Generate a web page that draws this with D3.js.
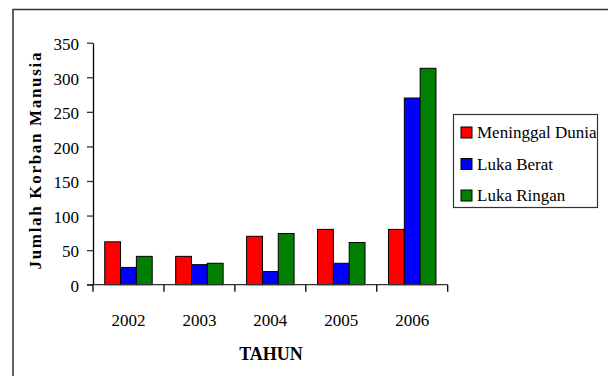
<!DOCTYPE html>
<html>
<head>
<meta charset="utf-8">
<script src="https://cdn.jsdelivr.net/npm/d3@7/dist/d3.min.js"></script>
</head>
<body style="margin:0;padding:0;background:#fff">
<svg id="chart" width="608" height="376" style="display:block" font-family="Liberation Serif"></svg>
<script>
// Casualties per year, split by category
const years = ["2002", "2003", "2004", "2005", "2006"];
const seriesNames = ["Meninggal Dunia", "Luka Berat", "Luka Ringan"];
const seriesColors = ["#ff0000", "#0000ff", "#008000"];
const meninggalDunia = [62, 41, 70, 80, 80];
const lukaBerat = [25, 29, 19, 31, 270];
const lukaRingan = [41, 31, 74, 61, 313];
const yTicks = [0, 50, 100, 150, 200, 250, 300, 350];

const seriesValues = [meninggalDunia, lukaBerat, lukaRingan];
const SERIF = "Liberation Serif";

const svg = d3.select("#chart");

// outer frame
svg.append("rect")
  .attr("x", 13).attr("y", 9.5)
  .attr("width", 620).attr("height", 400)
  .attr("fill", "none").attr("stroke", "#333").attr("stroke-width", 1.5);

const plot = { left: 93, right: 447.7, top: 42.7, bottom: 284.7 };

const x = d3.scaleBand()
  .domain(years)
  .range([plot.left, plot.right])
  .paddingInner(0.331)
  .paddingOuter(0.1655);

const xSub = d3.scaleBand()
  .domain(seriesNames)
  .range([0, x.bandwidth()]);

const y = d3.scaleLinear()
  .domain([0, 350])
  .range([plot.bottom, plot.top]);

// bars
const groups = svg.append("g").selectAll("g")
  .data(years)
  .join("g")
  .attr("transform", d => `translate(${x(d)},0)`);

groups.selectAll("rect")
  .data((yr, i) => seriesNames.map((s, k) => ({ s, k, v: seriesValues[k][i] })))
  .join("rect")
  .attr("x", d => xSub(d.s))
  .attr("y", d => y(d.v))
  .attr("width", xSub.bandwidth())
  .attr("height", d => y(0) - y(d.v))
  .attr("fill", d => seriesColors[d.k])
  .attr("stroke", "#000")
  .attr("stroke-width", 1);

// y axis
const yAxis = svg.append("g")
  .attr("transform", `translate(${plot.left},0)`)
  .call(d3.axisLeft(y).tickValues(yTicks).tickSize(6).tickPadding(8).tickSizeOuter(0));
yAxis.attr("font-family", SERIF).attr("font-size", 17);
yAxis.select(".domain").attr("stroke", "#000").attr("stroke-width", 1.3);
yAxis.selectAll(".tick line").attr("stroke", "#333").attr("stroke-width", 1.3);
yAxis.selectAll("text")
  .attr("font-family", SERIF)
  .attr("font-size", 17)
  .attr("dy", "0.4em")
  .attr("fill", "#000");

// x axis: ticks at category boundaries
const xAxisG = svg.append("g").attr("transform", `translate(0,${plot.bottom})`);
xAxisG.append("line")
  .attr("x1", plot.left - 6).attr("x2", plot.right)
  .attr("stroke", "#333").attr("stroke-width", 1.3);
const boundaries = years.map(d => x(d) - x.step() * x.paddingInner() / 2)
  .concat([plot.right]);
xAxisG.selectAll("line.tk")
  .data(boundaries)
  .join("line")
  .attr("class", "tk")
  .attr("x1", d => d).attr("x2", d => d)
  .attr("y1", 0).attr("y2", 7)
  .attr("stroke", "#000").attr("stroke-width", 1.3);
xAxisG.selectAll("text")
  .data(years)
  .join("text")
  .attr("x", d => x(d) + x.bandwidth() / 2)
  .attr("y", 41)
  .attr("text-anchor", "middle")
  .attr("font-family", SERIF)
  .attr("font-size", 17)
  .text(d => d);

// axis titles
svg.append("text")
  .attr("x", 271)
  .attr("y", 360)
  .attr("text-anchor", "middle")
  .attr("font-family", SERIF)
  .attr("font-size", 18)
  .attr("font-weight", "bold")
  .text("TAHUN");

svg.append("text")
  .attr("transform", "translate(41,161) rotate(-90)")
  .attr("text-anchor", "middle")
  .attr("textLength", 217)
  .attr("lengthAdjust", "spacing")
  .attr("font-family", SERIF)
  .attr("font-size", 17)
  .attr("font-weight", "bold")
  .text("Jumlah Korban Manusia");

// legend
const legend = svg.append("g");
legend.append("rect")
  .attr("x", 453.5).attr("y", 114.5)
  .attr("width", 144).attr("height", 93)
  .attr("fill", "#fff").attr("stroke", "#333").attr("stroke-width", 1.2);
const items = legend.selectAll("g.item")
  .data(seriesNames)
  .join("g")
  .attr("class", "item")
  .attr("transform", (d, i) => `translate(461,${127 + i * 31.5})`);
items.append("rect")
  .attr("width", 11).attr("height", 11)
  .attr("fill", (d, i) => seriesColors[i])
  .attr("stroke", "#000").attr("stroke-width", 1);
items.append("text")
  .attr("x", 16).attr("y", 11)
  .attr("font-family", SERIF)
  .attr("font-size", 17)
  .text(d => d);
</script>
</body>
</html>
